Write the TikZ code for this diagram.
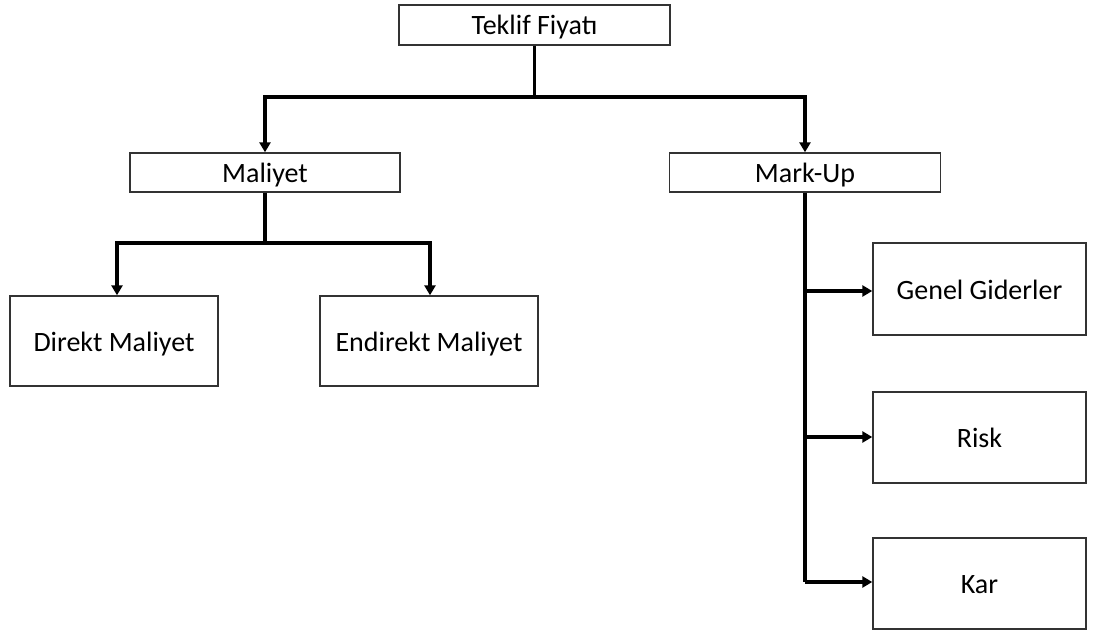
\documentclass[tikz,border=0pt]{standalone}
\usepackage{fontspec}
\setmainfont{Carlito}
\usetikzlibrary{arrows.meta}
\begin{document}
\begin{tikzpicture}[x=1pt,y=-1pt,
  box/.style={draw=black!80, line width=1.4pt, fill=white, inner sep=0pt, text height=22pt, text depth=2pt, font=\fontsize{28}{32}\selectfont},
  conn/.style={line width=3.4pt, -{Triangle[length=10pt,width=11pt]}},
  plain/.style={line width=3.4pt}]
\useasboundingbox (0,0) rectangle (1094,631);
\node[box, minimum width=271pt, minimum height=40pt] (tf) at (534.5,25) {Teklif Fiyatı};
\node[box, minimum width=270pt, minimum height=39pt] (mal) at (265,172.5) {Maliyet};
\node[box, minimum width=271pt, minimum height=39pt] (mu) at (805,172.5) {Mark-Up};
\node[box, minimum width=208pt, minimum height=90pt] (dm) at (114,341) {Direkt Maliyet};
\node[box, minimum width=218pt, minimum height=90pt] (em) at (429,341) {Endirekt Maliyet};
\node[box, minimum width=213pt, minimum height=92pt] (gg) at (979.5,289) {Genel Giderler};
\node[box, minimum width=213pt, minimum height=91pt] (ri) at (979.5,437.5) {Risk};
\node[box, minimum width=213pt, minimum height=91pt] (ka) at (979.5,583.5) {Kar};
\coordinate (j1) at (534.5,97);
\coordinate (j2) at (265,243);
\coordinate (t1) at (805,582);
\draw[plain] (tf.south) -- (j1);
\draw[conn] (j1) -| (mal.north);
\draw[conn] (j1) -| (mu.north);
\draw[plain] (mal.south) -- (j2);
\draw[conn] (j2) -| (dm.north -| 117,0);
\draw[conn] (j2) -| (em.north -| 430,0);
\draw[plain] (mu.south) -- (t1);
\draw[conn] (t1) -- (ka.west |- t1);
\draw[conn] (805,291) -- (gg.west |- 0,291);
\draw[conn] (805,437) -- (ri.west |- 0,437);
\end{tikzpicture}
\end{document}
